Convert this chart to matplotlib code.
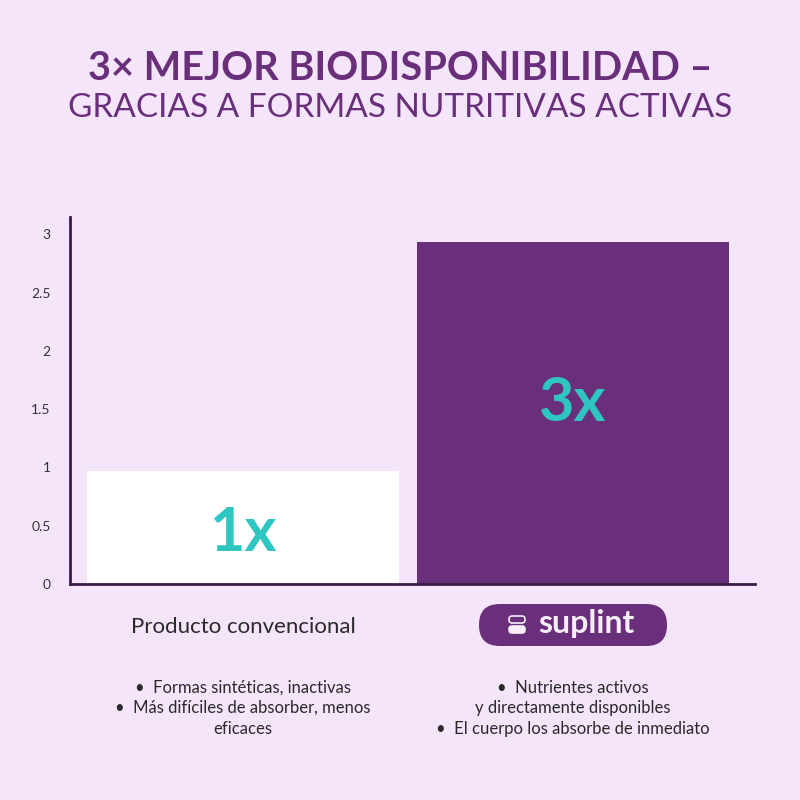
import numpy as np
import matplotlib.pyplot as plt
from matplotlib.patches import FancyBboxPatch

# data
categories = ['Producto convencional', 'suplint']
values = [0.97, 2.93]
bar_labels = ['1x', '3x']
yticks = [0, 0.5, 1, 1.5, 2, 2.5, 3]
ytick_labels = ['0', '0.5', '1', '1.5', '2', '2.5', '3']
left_notes = ['•  Formas sintéticas, inactivas',
              '•  Más difíciles de absorber, menos',
              'eficaces']
right_notes = ['•  Nutrientes activos',
               'y directamente disponibles',
               '•  El cuerpo los absorbe de inmediato']

bg = '#f5e5fb'
purple = '#6a2f7b'
dark = '#3a1d47'
teal = '#2fc6c1'

plt.rcParams['font.family'] = ['Lato', 'DejaVu Sans']

fig = plt.figure(figsize=(8, 8), dpi=100, facecolor=bg)
ax = fig.add_axes([0.0875, 0.27, 0.856, 0.459])
ax.set_facecolor(bg)

x = np.arange(len(values))
bars = ax.bar(x, values, width=0.945, color=['white', purple])
ax.set_xlim(-0.524, 1.552)
ax.set_ylim(0, 3.15)
ax.set_yticks(yticks)
ax.set_yticklabels(ytick_labels)
ax.set_xticks([])
ax.tick_params(axis='y', length=0, pad=14, labelsize=10, labelcolor='#333333')
for s in ['top', 'right']:
    ax.spines[s].set_visible(False)
for s in ['left', 'bottom']:
    ax.spines[s].set_color(dark)
    ax.spines[s].set_linewidth(2)

# big labels inside bars
ax.text(x[0], 0.44, bar_labels[0], ha='center', va='center', fontsize=44,
        fontweight='bold', color=teal)
ax.text(x[1], 1.55, bar_labels[1], ha='center', va='center', fontsize=44,
        fontweight='bold', color=teal)

# title
fig.text(0.5, 1 - 68 / 800, '3× MEJOR BIODISPONIBILIDAD –', ha='center', va='center',
         fontsize=28.5, fontweight='bold', color=purple)
fig.text(0.5, 1 - 108 / 800, 'GRACIAS A FORMAS NUTRITIVAS ACTIVAS', ha='center', va='center',
         fontsize=24, color=purple)

# category labels
fig.text(243 / 800, 1 - 627 / 800, categories[0], ha='center', va='center',
         fontsize=16, color='#2a2a2a')
pill = FancyBboxPatch((479 / 800, 1 - 646 / 800), 188 / 800, 42 / 800,
                      boxstyle='round,pad=0,rounding_size=0.026',
                      transform=fig.transFigure, facecolor=purple,
                      edgecolor='none')
fig.patches.append(pill)
fig.text(586 / 800, 1 - 624 / 800, categories[1], ha='center', va='center',
         fontsize=23, fontweight='bold', color='#f7eefa')
# small capsule icon
for dy, fc in [(5, '#f7eefa'), (-5, 'none')]:
    cap = FancyBboxPatch((509 / 800, 1 - (625 + dy) / 800 - 3 / 800), 16 / 800, 7 / 800,
                         boxstyle='round,pad=0,rounding_size=0.004',
                         transform=fig.transFigure, facecolor=fc,
                         edgecolor='#f7eefa', linewidth=1.2)
    fig.patches.append(cap)

# notes
ys = [688, 708, 729]
for i, t in enumerate(left_notes):
    fig.text(243 / 800, 1 - ys[i] / 800, t, ha='center', va='center',
             fontsize=12, color='#2a2a2a')
for i, t in enumerate(right_notes):
    fig.text(573 / 800, 1 - ys[i] / 800, t, ha='center', va='center',
             fontsize=12, color='#2a2a2a')

fig.savefig('out.png', dpi=100, facecolor=bg)
